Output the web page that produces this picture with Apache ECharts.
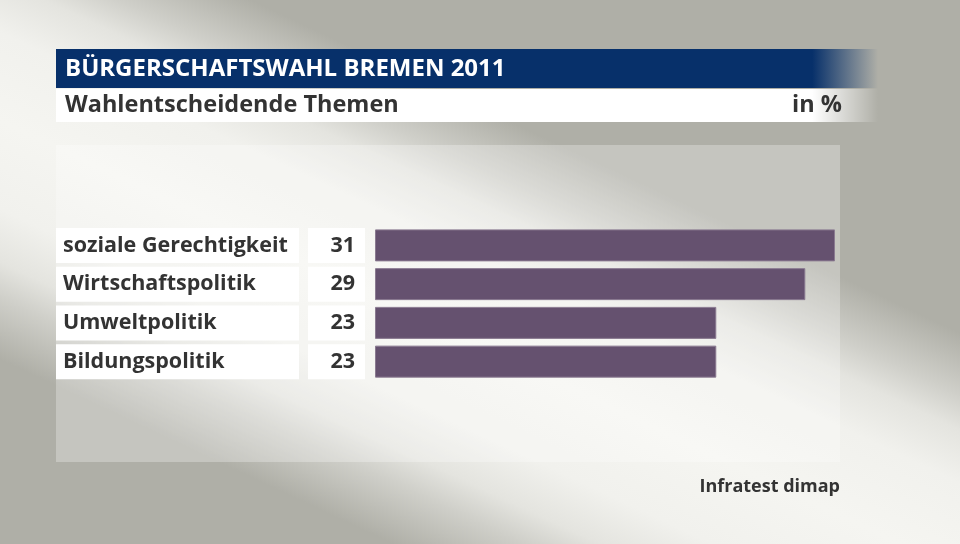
<!DOCTYPE html>
<html><head><meta charset="utf-8">
<style>html,body{margin:0;padding:0;}#c{width:960px;height:544px;}</style>
<script src="https://cdn.jsdelivr.net/npm/echarts@6/dist/echarts.min.js"></script>
</head><body><div id="c"></div>
<script>
var categories = ['soziale Gerechtigkeit', 'Wirtschaftspolitik', 'Umweltpolitik', 'Bildungspolitik'];
var values = [31, 29, 23, 23];
var title = 'BÜRGERSCHAFTSWAHL BREMEN 2011';
var subtitle = 'Wahlentscheidende Themen';
var unit = 'in %';
var source = 'Infratest dimap';

var FONT = '"Open Sans", "Noto Sans", sans-serif';
var chart = echarts.init(document.getElementById('c'));
chart.setOption({
  animation: false,
  graphic: [
    {type: 'rect', z: -10, shape: {x: 0, y: 0, width: 960, height: 544},
     style: {fill: {type: 'linear', global: true, x: 620, y: -30, x2: 280, y2: 694,
       colorStops: [
         {offset: 0, color: '#afafa7'}, {offset: 0.23, color: '#afafa7'},
         {offset: 0.30, color: '#cfcfc9'}, {offset: 0.34, color: '#e4e4df'},
         {offset: 0.40, color: '#f1f1ed'}, {offset: 0.5, color: '#f5f5f1'},
         {offset: 0.60, color: '#f1f1ed'}, {offset: 0.66, color: '#e4e4df'},
         {offset: 0.70, color: '#cfcfc9'}, {offset: 0.77, color: '#afafa7'},
         {offset: 1, color: '#afafa7'}]}}},
    {type: 'rect', z: -9, shape: {x: 56, y: 145, width: 784, height: 317},
     style: {fill: 'rgba(255,255,255,0.28)'}},
    {type: 'rect', shape: {x: 56, y: 49, width: 822, height: 39},
     style: {fill: {type: 'linear', x: 0, y: 0, x2: 1, y2: 0,
       colorStops: [{offset: 0, color: '#07306a'}, {offset: 0.92, color: '#07306a'}, {offset: 1, color: 'rgba(7,48,106,0)'}]}}},
    {type: 'rect', shape: {x: 56, y: 89, width: 822, height: 33},
     style: {fill: {type: 'linear', x: 0, y: 0, x2: 1, y2: 0,
       colorStops: [{offset: 0, color: '#ffffff'}, {offset: 0.92, color: '#ffffff'}, {offset: 1, color: 'rgba(255,255,255,0)'}]}}},
    {type: 'text', x: 65, y: 69, style: {text: title, fill: '#ffffff', font: 'bold 24px ' + FONT, verticalAlign: 'middle'}},
    {type: 'text', x: 65, y: 105, style: {text: subtitle, fill: '#333333', font: 'bold 23.5px ' + FONT, verticalAlign: 'middle'}},
    {type: 'text', x: 842, y: 105, style: {text: unit, fill: '#333333', font: 'bold 23.5px ' + FONT, align: 'right', verticalAlign: 'middle'}},
    {type: 'text', x: 840, y: 487, style: {text: source, fill: '#333333', font: 'bold 18px ' + FONT, align: 'right', verticalAlign: 'middle'}}
  ],
  grid: {left: 375, right: 125, top: 226, height: 155},
  xAxis: {type: 'value', min: 0, max: 31, show: false},
  yAxis: [
    {type: 'category', data: categories, inverse: true, position: 'left',
     axisLine: {show: false}, axisTick: {show: false},
     axisLabel: {margin: 319, align: 'left', verticalAlign: 'middle',
       formatter: function (v) { return '{a|' + v + '}'; },
       rich: {a: {backgroundColor: '#ffffff', width: 236, height: 35, lineHeight: 35,
         padding: [0, 0, 0, 7], color: '#333333', fontFamily: FONT, fontWeight: 'bold', fontSize: 21.5}}}},
    {type: 'category', data: values.map(String), inverse: true, position: 'left',
     axisLine: {show: false}, axisTick: {show: false},
     axisLabel: {margin: 10, align: 'right', verticalAlign: 'middle',
       formatter: function (v) { return '{b|' + v + '}'; },
       rich: {b: {backgroundColor: '#ffffff', width: 47, height: 35, lineHeight: 35, align: 'right',
         padding: [0, 10, 0, 0], color: '#333333', fontFamily: FONT, fontWeight: 'bold', fontSize: 21.5}}}}
  ],
  series: [{type: 'bar', data: values, barWidth: 32, yAxisIndex: 0,
    itemStyle: {color: '#65516f', borderColor: '#8a7a90', borderWidth: 1}}]
});
</script></body></html>
